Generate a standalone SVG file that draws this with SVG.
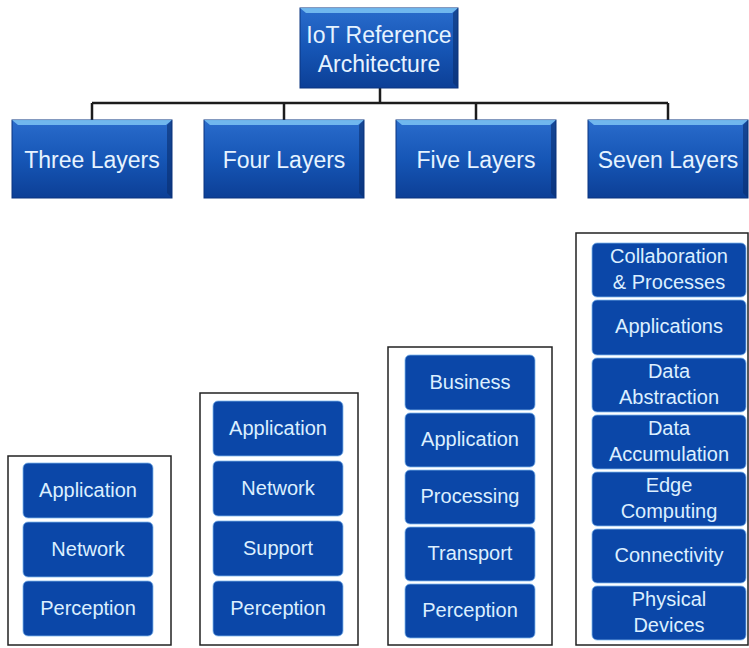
<svg xmlns="http://www.w3.org/2000/svg" width="749" height="648" viewBox="0 0 749 648">
<defs>
<linearGradient id="hg" x1="0" y1="0" x2="0" y2="1">
<stop offset="0" stop-color="#2a6ccc"/>
<stop offset="0.5" stop-color="#1656b6"/>
<stop offset="1" stop-color="#0c3f96"/>
</linearGradient>
<style>
.hdr{fill:url(#hg);stroke:#0a3580;stroke-width:1}
.bev{fill:#7cc4f4;opacity:0.85}
.bevr{fill:#0a2f70;opacity:0.6}
.ht{font-family:"Liberation Sans",Arial,sans-serif;font-size:23px;fill:#e6f3ff;text-anchor:middle}
.frame{fill:#ffffff;stroke:#222;stroke-width:1.5}
.lay{fill:#0b47a8;stroke:#7fb6ec;stroke-width:0.8}
.lt{font-family:"Liberation Sans",Arial,sans-serif;font-size:20px;fill:#dcefff;text-anchor:middle}
.con{stroke:#1c1c1c;stroke-width:2.5;fill:none}
</style>
</defs>
<rect width="749" height="648" fill="#ffffff"/>
<g id="connectors">
<path class="con" d="M380 88V103M92 103H668M92 103V120M284 103V120M476 103V120M668 103V120"/>
</g>
<g id="root">
<rect class="hdr" x="300" y="8" width="158" height="80"/>
<polygon class="bev" points="300,8 458,8 452,13 306,13"/>
<polygon class="bevr" points="458,8 458,88 453,83 453,13"/>
<text class="ht" x="379" y="43">IoT Reference</text>
<text class="ht" x="379" y="72">Architecture</text>
</g>
<g id="three">
<rect class="hdr" x="12" y="120" width="160" height="78"/>
<polygon class="bev" points="12,120 172,120 166,125 18,125"/>
<polygon class="bevr" points="172,120 172,198 167,193 167,125"/>
<text class="ht" x="92" y="168">Three Layers</text>
</g>
<g id="four">
<rect class="hdr" x="204" y="120" width="160" height="78"/>
<polygon class="bev" points="204,120 364,120 358,125 210,125"/>
<polygon class="bevr" points="364,120 364,198 359,193 359,125"/>
<text class="ht" x="284" y="168">Four Layers</text>
</g>
<g id="five">
<rect class="hdr" x="396" y="120" width="160" height="78"/>
<polygon class="bev" points="396,120 556,120 550,125 402,125"/>
<polygon class="bevr" points="556,120 556,198 551,193 551,125"/>
<text class="ht" x="476" y="168">Five Layers</text>
</g>
<g id="seven">
<rect class="hdr" x="588" y="120" width="160" height="78"/>
<polygon class="bev" points="588,120 748,120 742,125 594,125"/>
<polygon class="bevr" points="748,120 748,198 743,193 743,125"/>
<text class="ht" x="668" y="168">Seven Layers</text>
</g>
<g id="three-stack">
<rect class="frame" x="8" y="456" width="163" height="189"/>
<rect class="lay" x="23" y="463" width="130" height="55" rx="5"/>
<text class="lt" x="88" y="497">Application</text>
<rect class="lay" x="23" y="522" width="130" height="55" rx="5"/>
<text class="lt" x="88" y="556">Network</text>
<rect class="lay" x="23" y="581" width="130" height="55" rx="5"/>
<text class="lt" x="88" y="615">Perception</text>
</g>
<g id="four-stack">
<rect class="frame" x="200" y="393" width="158" height="252"/>
<rect class="lay" x="213" y="401" width="130" height="55" rx="5"/>
<text class="lt" x="278" y="435">Application</text>
<rect class="lay" x="213" y="461" width="130" height="55" rx="5"/>
<text class="lt" x="278" y="495">Network</text>
<rect class="lay" x="213" y="521" width="130" height="55" rx="5"/>
<text class="lt" x="278" y="555">Support</text>
<rect class="lay" x="213" y="581" width="130" height="55" rx="5"/>
<text class="lt" x="278" y="615">Perception</text>
</g>
<g id="five-stack">
<rect class="frame" x="388" y="347" width="164" height="298"/>
<rect class="lay" x="405" y="355" width="130" height="55" rx="5"/>
<text class="lt" x="470" y="389">Business</text>
<rect class="lay" x="405" y="413" width="130" height="54" rx="5"/>
<text class="lt" x="470" y="446">Application</text>
<rect class="lay" x="405" y="470" width="130" height="54" rx="5"/>
<text class="lt" x="470" y="503">Processing</text>
<rect class="lay" x="405" y="527" width="130" height="54" rx="5"/>
<text class="lt" x="470" y="560">Transport</text>
<rect class="lay" x="405" y="584" width="130" height="54" rx="5"/>
<text class="lt" x="470" y="617">Perception</text>
</g>
<g id="seven-stack">
<rect class="frame" x="576" y="233" width="172" height="412"/>
<rect class="lay" x="592" y="243" width="154" height="54" rx="5"/>
<text class="lt" x="669" y="263">Collaboration</text>
<text class="lt" x="669" y="289">&amp; Processes</text>
<rect class="lay" x="592" y="300" width="154" height="55" rx="5"/>
<text class="lt" x="669" y="333">Applications</text>
<rect class="lay" x="592" y="358" width="154" height="54" rx="5"/>
<text class="lt" x="669" y="378">Data</text>
<text class="lt" x="669" y="404">Abstraction</text>
<rect class="lay" x="592" y="415" width="154" height="54" rx="5"/>
<text class="lt" x="669" y="435">Data</text>
<text class="lt" x="669" y="461">Accumulation</text>
<rect class="lay" x="592" y="472" width="154" height="54" rx="5"/>
<text class="lt" x="669" y="492">Edge</text>
<text class="lt" x="669" y="518">Computing</text>
<rect class="lay" x="592" y="529" width="154" height="54" rx="5"/>
<text class="lt" x="669" y="562">Connectivity</text>
<rect class="lay" x="592" y="586" width="154" height="54" rx="5"/>
<text class="lt" x="669" y="606">Physical</text>
<text class="lt" x="669" y="632">Devices</text>
</g>
</svg>
